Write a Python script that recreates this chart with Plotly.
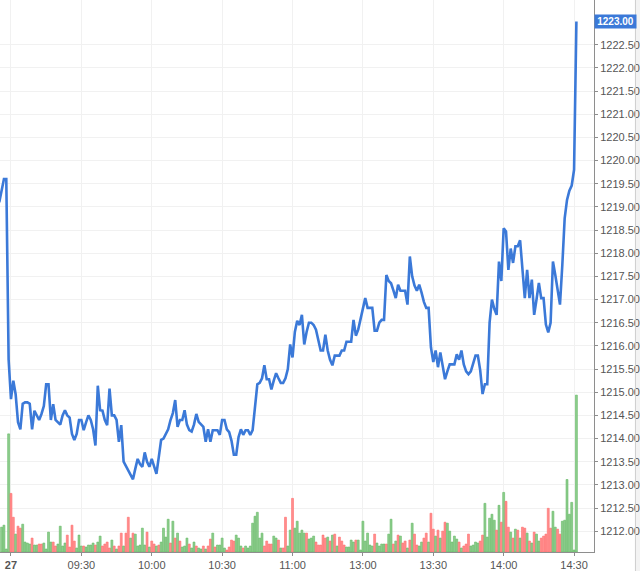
import plotly.graph_objects as go

# ---- data ----
# price per minute, index -4 .. 242 (index 1 = 09:00 on the 27th)
price = [
    1219.10, 1219.35, 1219.60, 1219.60, 1215.70, 1214.85, 1215.25, 1214.95, 1214.35, 1214.20,
    1214.75, 1214.78, 1214.78, 1214.75, 1214.20, 1214.60, 1214.50, 1214.40, 1214.53, 1214.70,
    1215.17, 1215.17, 1214.40, 1214.74, 1214.40, 1214.35, 1214.30, 1214.50, 1214.61, 1214.50,
    1214.45, 1214.10, 1213.97, 1214.10, 1214.40, 1214.40, 1214.18, 1214.35, 1214.50, 1214.40,
    1214.20, 1213.85, 1215.14, 1214.61, 1214.60, 1214.40, 1214.29, 1215.08, 1214.50, 1214.50,
    1214.40, 1213.93, 1214.29, 1213.50, 1213.40, 1213.30, 1213.20, 1213.12, 1213.35, 1213.56,
    1213.45, 1213.39, 1213.70, 1213.50, 1213.39, 1213.56, 1213.40, 1213.24, 1213.60, 1213.97,
    1214.00, 1214.10, 1214.20, 1214.40, 1214.55, 1214.83, 1214.25, 1214.40, 1214.40, 1214.61,
    1214.30, 1214.18, 1214.15, 1214.30, 1214.53, 1214.36, 1214.30, 1214.25, 1213.93, 1214.20,
    1213.93, 1214.18, 1214.18, 1214.18, 1214.08, 1214.40, 1214.40, 1214.20, 1214.14, 1213.95,
    1213.65, 1213.65, 1214.03, 1214.20, 1214.08, 1214.18, 1214.18, 1214.08, 1214.18, 1214.70,
    1215.17, 1215.20, 1215.30, 1215.58, 1215.28, 1215.28, 1215.06, 1215.25, 1215.41, 1215.30,
    1215.20, 1215.20, 1215.30, 1215.50, 1216.03, 1215.75, 1216.30, 1216.54, 1216.45, 1216.67,
    1216.03, 1216.30, 1216.50, 1216.50, 1216.45, 1216.35, 1216.15, 1215.90, 1215.90, 1216.24,
    1215.90, 1215.70, 1215.58, 1215.79, 1215.79, 1215.79, 1215.90, 1215.90, 1216.09, 1216.09,
    1216.09, 1216.56, 1216.22, 1216.35, 1216.60, 1216.82, 1217.03, 1216.82, 1216.82, 1216.82,
    1216.33, 1216.33, 1216.50, 1216.56, 1216.56, 1217.53, 1217.40, 1217.35, 1217.20, 1217.03,
    1217.32, 1217.19, 1217.19, 1217.19, 1216.89, 1217.93, 1217.50, 1217.30, 1217.19, 1217.32,
    1217.15, 1216.95, 1216.82, 1216.82, 1215.97, 1215.65, 1215.90, 1215.54, 1215.86, 1215.60,
    1215.28, 1215.45, 1215.60, 1215.60, 1215.60, 1215.82, 1215.70, 1215.90, 1215.60, 1215.45,
    1215.39, 1215.45, 1215.60, 1215.79, 1215.79, 1215.47, 1214.96, 1215.17, 1215.17, 1216.50,
    1217.00, 1216.80, 1216.67, 1217.82, 1217.40, 1218.54, 1218.47, 1217.64, 1218.10, 1217.79,
    1218.15, 1218.15, 1218.28, 1217.68, 1217.03, 1217.64, 1217.03, 1217.43, 1216.67, 1217.00,
    1217.36, 1217.03, 1217.03, 1216.46, 1216.29, 1216.50, 1217.82, 1217.53, 1217.20, 1216.89,
    1217.75, 1218.75, 1219.15, 1219.35, 1219.46, 1219.80, 1223.00,
]
price_start = -4

# volume per minute, index -3 .. 242
volume = [
    25, 27, 3, 119, 59, 35, 18, 26, 24, 28, 10, 9, 8, 14, 7, 7, 8, 8, 9, 3,
    20, 10, 10, 6, 8, 26, 6, 9, 17, 5, 27, 11, 4, 17, 6, 6, 5, 7, 7, 9,
    7, 10, 16, 6, 8, 10, 4, 12, 6, 3, 6, 19, 6, 19, 35, 14, 19, 18, 6, 7,
    24, 7, 20, 5, 11, 8, 6, 7,
    10, 24, 15, 33, 9, 31, 14, 19, 11, 5, 6, 14, 8, 4, 10, 6, 4, 3, 6, 3,
    6, 13, 19, 5, 7, 7, 14, 4, 2, 5, 12, 11, 17, 14, 6, 4, 6, 4, 6, 29,
    36, 40, 14, 19, 6, 11, 8, 8, 16, 14, 12, 4, 4, 35, 6, 22, 54, 24, 31, 19,
    22, 19, 19, 13, 14, 16, 10, 7,
    7, 17, 14, 15, 11, 17, 18, 6, 15, 11, 7, 5, 5, 12, 10, 12, 12, 2, 31, 11,
    19, 7, 6, 18, 9, 6, 8, 8, 8, 18, 33, 8, 11, 17, 16, 9, 11, 4, 12, 29,
    18, 7, 6, 10, 14, 19, 10, 39, 23, 16, 22, 14, 21, 30, 29, 21, 10, 16, 13, 10,
    4, 6, 8, 18, 6, 7, 10, 9,
    11, 17, 49, 15, 34, 38, 32, 22, 47, 30, 60, 51, 25, 20, 14, 23, 22, 14, 25, 24,
    19, 11, 9, 20, 18, 11, 14, 16, 18, 44, 24, 41, 25, 23, 18, 31, 32, 73, 38, 50,
    2, 158,
]
volume_side = list(
    "GGGGRRGRRG" "GGGRGGRRGG" "GGRRGGGGRR" "RRGGGRGGGG" "RGGRRRRGRG" "RRGRRGRGGG" "GGRGRRGR"
    "GGGGRGRGRG" "GGRGGRGGRG" "RRGRGGGGRR" "RRGGGRGGGG" "GGGGRRRRGG" "RGRRGGRGGG" "GGRGGGRR"
    "RRRGRGRGRR" "RGGGGRGGGG" "GGGRGGGGRG" "GRGRGRRGRG" "RRGGRRGRRG" "RGRRGGGGGR" "GRRRGGGG"
    "RRGGGGGRGR" "GRRGRGRGRR" "GRGRGGRRRR" "RGGRRGGGGG" "GG"
)
volume_start = -3

tick_index = [1, 31, 61, 91, 121, 151, 181, 211, 241]
tick_text = ["<b>27</b>", "09:30", "10:00", "10:30", "11:00", "13:00", "13:30", "14:00", "14:30"]
price_ticks = [1212.0, 1212.5, 1213.0, 1213.5, 1214.0, 1214.5, 1215.0, 1215.5, 1216.0,
               1216.5, 1217.0, 1217.5, 1218.0, 1218.5, 1219.0, 1219.5, 1220.0, 1220.5,
               1221.0, 1221.5, 1222.0, 1222.5]
last_price = price[-1]

# ---- figure ----
px = list(range(price_start, price_start + len(price)))
vx = list(range(volume_start, volume_start + len(volume)))
n = min(len(volume), len(volume_side))
fill = ["#8fcd8f" if s == "G" else "#ff8f8f" for s in volume_side[:n]]
edge = ["#62b862" if s == "G" else "#ff6a6a" for s in volume_side[:n]]

fig = go.Figure()
fig.add_trace(go.Bar(
    x=vx[:n], y=volume[:n], yaxis="y", width=0.82,
    marker=dict(color=fill, line=dict(color=edge, width=0.6)),
    hoverinfo="skip", showlegend=False,
))
fig.add_trace(go.Scatter(
    x=px, y=price, yaxis="y2", mode="lines",
    line=dict(color="#3b79d8", width=2.6),
    hoverinfo="skip", showlegend=False,
))

font_family = "Liberation Sans, Arial, sans-serif"
fig.update_layout(
    width=640, height=571,
    margin=dict(l=0, r=45, t=0, b=15),
    paper_bgcolor="white", plot_bgcolor="white",
    font=dict(family=font_family, size=11, color="#555"),
    bargap=0,
    xaxis=dict(
        range=[-3.68, 249.5],
        tickvals=tick_index, ticktext=tick_text,
        showgrid=True, gridcolor="#f1f1f1", gridwidth=1,
        zeroline=False,
        showline=True, linecolor="#8e8e8e", linewidth=1,
        ticks="outside", ticklen=3, tickcolor="#8e8e8e",
        tickfont=dict(size=11, color="#555"),
        fixedrange=True,
    ),
    yaxis=dict(
        range=[0, 556], visible=False, showgrid=False, fixedrange=True,
    ),
    yaxis2=dict(
        overlaying="y", side="right",
        range=[1211.551, 1223.465],
        tickvals=price_ticks, ticktext=["%.2f" % v for v in price_ticks],
        showgrid=True, gridcolor="#f1f1f1", gridwidth=1,
        zeroline=False,
        showline=True, linecolor="#8e8e8e", linewidth=1,
        ticks="outside", ticklen=3, tickcolor="#8e8e8e",
        tickfont=dict(size=11, color="#555"),
        fixedrange=True,
    ),
    shapes=[
        dict(type="rect", xref="paper", yref="paper",
             x0=636.5 / 595, x1=1.2, y0=-0.1, y1=1.1,
             fillcolor="#f3f3f3", line=dict(width=0), layer="below"),
        dict(type="line", xref="paper", yref="paper",
             x0=636.5 / 595, x1=636.5 / 595, y0=-0.1, y1=1.1,
             line=dict(color="#cdcdcd", width=1)),
        dict(type="line", xref="paper", yref="y2",
             x0=1, x1=1 + 3 / 595, y0=last_price, y1=last_price,
             line=dict(color="#8e8e8e", width=1)),
    ],
    annotations=[
        dict(x=1, xref="paper", y=last_price, yref="y2",
             xanchor="left", yanchor="middle", showarrow=False,
             text="<b>%.2f</b>" % last_price,
             font=dict(family=font_family, size=10, color="white"),
             bgcolor="#3b79d8", borderpad=1.5, width=38, height=10),
    ],
)

fig.write_html("out.html", config={"displayModeBar": False, "staticPlot": True},
               post_script="document.body.style.margin='0';")
